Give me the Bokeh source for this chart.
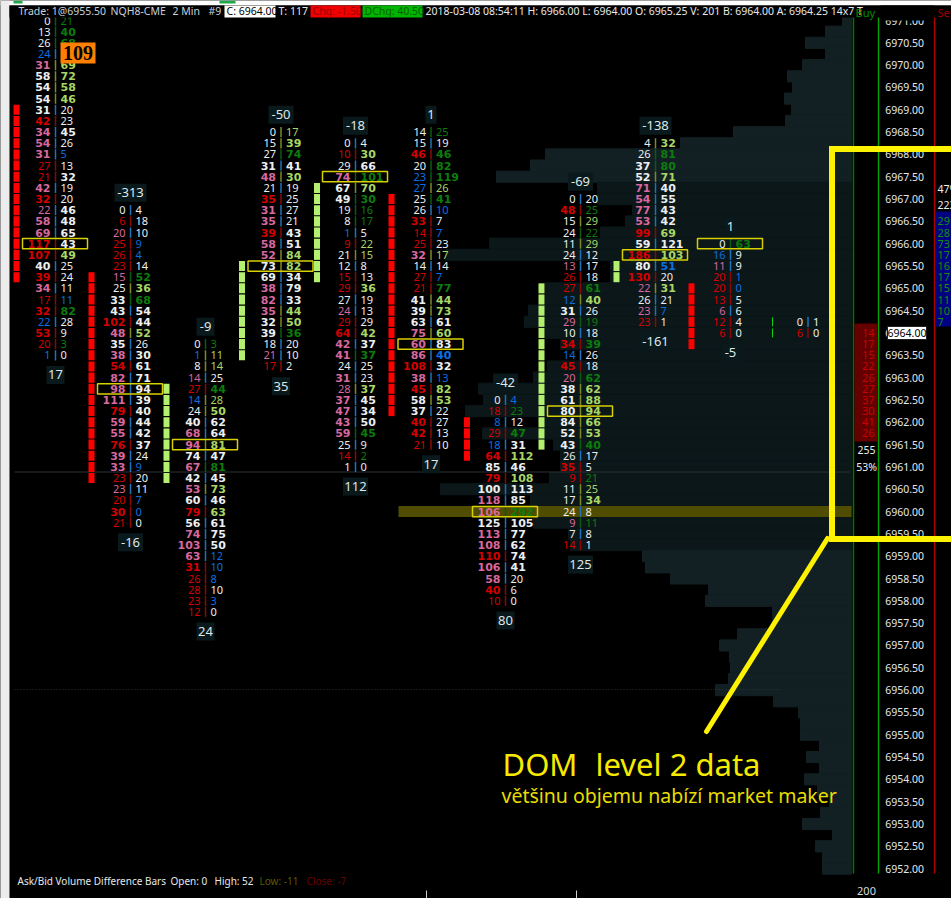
from bokeh.embed import file_html
from bokeh.resources import INLINE
from bokeh.plotting import figure
from bokeh.models import ColumnDataSource, Range1d, LinearAxis, FixedTicker, NumeralTickFormatter
from bokeh.core.properties import value

# ---------- footprint data (bid x ask per 0.25 price row, from top row down) ----------
bar_top = [6971.0, 6966.75, 6963.75, 6968.5, 6968.25, 6968.5, 6962.5, 6967.0, 6968.25, 6966.0, 6964.25]
bar_poc = [6966.0, 6962.75, 6961.5, 6965.5, 6967.5, 6963.75, 6960.0, 6962.25, 6965.75, 6966.0, None]
label_top = [None, "-313", "-9", "-50", "-18", "1", "-42", "-69", "-138", "1", None]
label_bottom = ["17", "-16", "24", "35", "112", "17", "80", "125", "-161", "-5", None]

bids0 = [0,13,26,24,31,58,54,54,31,42,34,54,31,27,21,42,32,22,58,69,117,107,40,39,34,17,32,22,53,20,1]
asks0 = [21,40,68,109,69,72,58,46,20,23,45,26,5,13,32,19,20,46,48,65,43,49,25,24,11,11,82,28,9,3,0]
bids1 = [0,6,20,25,26,23,15,25,33,43,102,48,35,38,54,82,98,111,79,59,55,76,39,33,23,23,20,30,21]
asks1 = [4,18,10,9,4,14,52,36,68,54,44,52,26,30,61,71,94,39,40,44,42,37,24,9,20,11,7,0,0]
bids2 = [0,1,8,14,27,14,24,40,68,94,74,67,42,53,60,79,56,74,103,63,31,26,28,23,12]
asks2 = [3,11,14,25,44,28,50,62,64,81,47,81,45,73,46,63,61,75,50,12,10,8,10,3,0]
bids3 = [0,15,27,31,48,21,35,31,35,39,58,52,73,69,38,82,35,32,39,18,21,17]
asks3 = [17,39,74,41,30,19,25,27,21,43,51,84,82,34,79,33,44,50,36,20,10,2]
bids4 = [0,10,29,74,67,49,19,8,1,9,21,12,15,29,27,24,29,64,42,41,24,31,28,37,47,43,59,25,14,1]
asks4 = [4,30,66,101,70,30,16,17,5,22,15,8,13,36,19,13,29,42,37,37,25,23,37,45,34,50,45,9,2,0]
bids5 = [14,15,46,20,23,27,25,26,33,14,25,32,14,27,21,41,39,63,75,60,86,108,38,45,58,37,40,42,21]
asks5 = [25,19,46,82,119,26,41,10,7,7,23,17,14,7,77,44,73,61,60,83,40,32,13,82,53,22,27,13,10]
bids6 = [0,18,8,29,18,64,85,79,100,118,106,125,113,108,110,106,58,40,10]
asks6 = [4,23,12,47,31,112,46,108,113,85,292,105,77,62,74,41,20,6,0]
bids7 = [0,48,15,24,11,24,13,26,27,12,31,29,10,34,14,45,20,38,61,80,84,52,43,26,35,9,11,17,24,9,7,14]
asks7 = [20,25,29,22,29,12,17,18,61,40,26,19,18,39,26,18,62,62,88,94,66,53,40,17,5,21,25,34,8,11,8,1]
bids8 = [4,26,37,52,71,54,77,53,99,59,186,80,130,22,26,23,23]
asks8 = [32,81,80,71,40,55,43,42,69,121,103,51,20,31,21,7,1]
bids9 = [0,16,11,20,20,13,6,12,6]
asks9 = [63,9,9,1,0,5,6,4,0]
bids10 = [0,6]
asks10 = [1,0]

# imbalance class of each printed number: w neutral, r/p sell side, b weak, g/l buy side
bid_class = ["wwwbpwwwwrppprrprppprrwrprrbrrb", "wrprrrpwwwrpwprppprpprpprprrr", "wbwprbwwppwpwpwrwppprrrrr",
             "wwwwpwrpprppwwpppwwwpr", "wrwpwwwwbrwwrrwprrppwppppppwrw", "wwrwbbwwrrrpwrrwwwppprprwwrrr",
             "wrbrbrwrwppwpprpprr", "wrwwwwprrbwpwrbrpwwwwwwwrrwwwpwr", "wwwwpppprwrwrpwpr", "wbprrrprr", "wr"]
ask_class = ["gggwllllwwwwbwwwwwwwwlwwwbgwwgw", "wwwbbwglgwwlwwwwwwwwwwwbwwbbw", "gllwgllwwlwgwlwlwwwbbbwbw",
             "llgwlwwwwwwllwwwllgwww", "wlwglgggwllwwlwwwlwgwwlwwwgwgw", "gwggglgbwbwlwbgllwlwbwbllwwww",
             "bgwgwlwlwwgwwwwwwww", "wglglwwwglwgwgwwglllllgwwgllwgww", "lgglwwwwlwlbwlwbw", "gwwbbwwww", "ww"]
all_bids = [bids0, bids1, bids2, bids3, bids4, bids5, bids6, bids7, bids8, bids9, bids10]
all_asks = [asks0, asks1, asks2, asks3, asks4, asks5, asks6, asks7, asks8, asks9, asks10]

# side markers: bar index, side, first price, last price, colour class
side_bar = [0, 1, 1, 3, 3, 4, 5, 7, 7, 8]
side_pos = ["L", "L", "R", "L", "R", "R", "R", "L", "R", "R"]
side_first = [6969.0, 6965.25, 6962.75, 6965.5, 6967.25, 6967.0, 6962.0, 6965.0, 6965.5, 6965.0]
side_last = [6965.25, 6960.75, 6960.75, 6963.5, 6965.25, 6962.25, 6961.25, 6961.5, 6965.25, 6963.75]
side_kind = ["s", "s", "b", "b", "b", "s", "s", "b", "b", "s"]

# DOM depth per 0.25 row from 6971.00 down to 6952.00
dom_depth = [9,26,46,26,49,64,59,67,60,66, 118,171,306,321,355,
             254,254,219,226,251,362,406,241,241, 306,306,323,327,306, 291,253,304,318,
             373,368,386,311, 369,298,291,291,302, 411,321,321, 318,283,281, 209,
             206,181,143,146, 79,79,114,132, 122,121,123,136, 78,53,51,51, 32,45,32,47,
             34,22,31,49, 19,36,29,29]

price_ticks = [6971 - 0.5 * i for i in range(39)]
buy_orders = [14,17,15,22,26,27,37,30,41,26]
sell_orders = [29,28,73,17,16,17,15,11,10,7]

# ---------- pixel helpers ----------
PX_PER_POINT = 44.64
def P(py):
    return 6966.0 - (py - 243.2) / PX_PER_POINT
def H(px):
    return px / PX_PER_POINT

bar_x = [55, 130, 205, 280.5, 355, 430.5, 505, 580, 655, 730, 807.5]
ROW = 0.25
HALF = 0.125

COL = {"w": "#eceff0", "r": "#d40000", "p": "#d8689f", "b": "#0a6fe0", "g": "#0c7d0c", "l": "#a9d665"}
DIV = {"r": "#8c0808", "g": "#0a5c14", "l": "#7d8a24", "b": "#1f72b8"}
UI = "Noto Sans"

p = figure(width=951, height=898, x_range=Range1d(0, 951), y_range=Range1d(P(898), P(0)),
           toolbar_location=None, output_backend="svg", x_axis_location=None, y_axis_location=None,
           min_border=0, background_fill_color="#000000", outline_line_color=None)
p.xgrid.visible = False
p.ygrid.visible = False

# window strips
p.quad(left=[0], right=[951], bottom=[P(5)], top=[P(0)], fill_color="#ffffff", line_color=None)
p.quad(left=[0], right=[9], bottom=[P(898)], top=[P(0)], fill_color="#ececec", line_color=None)
p.quad(left=[13, 219], right=[22, 235], bottom=[P(3)] * 2, top=[P(0)] * 2, fill_color="#1fa84a", line_color=None)

# DOM profile: each row is outlined in its own colour so that neighbouring rows have no seam
prices = [6971.0 - ROW * i for i in range(len(dom_depth))]
RIGHT = 851
dom_fill = ["#122024" if (q > 6967.3 or q <= 6959.0) else "#0b1719" for q in prices]
p.quad(left=[RIGHT - d for d in dom_depth], right=[RIGHT] * len(dom_depth),
       bottom=[q - HALF for q in prices], top=[q + HALF for q in prices],
       fill_color=dom_fill, line_color=dom_fill, line_width=1)

# session lines
p.line([14, 850], [P(471.5)] * 2, line_color="#2b3232", line_width=1)
p.line([14, 780], [P(689)] * 2, line_color="#2b3232", line_width=1, line_dash="1 2")

# maximum-volume price band
p.quad(left=[398], right=[851], top=[6960.0 + HALF], bottom=[6960.0 - HALF], fill_color="#504c00", line_color=None)

# vertical column rules
top_line, bot_line = P(5), P(873)
p.segment([853, 878, 934], [top_line] * 3, [853, 878, 934], [bot_line] * 3,
          line_color=["#007800", "#00a000", "#b00000"], line_width=1.5)

# side markers
sx, sy, sc = [], [], []
for b, pos, a, z, k in zip(side_bar, side_pos, side_first, side_last, side_kind):
    n = int(round((a - z) / ROW)) + 1
    for i in range(n):
        sx.append(bar_x[b] + (-39 if pos == "L" else 36))
        sy.append(a - i * ROW)
        sc.append("#ff0000" if k == "s" else "#b4f070")
p.rect(x=sx, y=sy, width=6, height=0.225, fill_color=sc, line_color=None)
p.segment([772, 772], [6964.25 + 0.1, 6964.0 + 0.1], [772, 772], [6964.25 - 0.1, 6964.0 - 0.1],
          line_color="#10d010", line_width=1)

# footprint cells
groups = {False: dict(x=[], y=[], text=[], color=[]), True: dict(x=[], y=[], text=[], color=[])}
asks_g = {False: dict(x=[], y=[], text=[], color=[]), True: dict(x=[], y=[], text=[], color=[])}
dx, dy0, dy1, dc = [], [], [], []
for i, (bv, av, bc, ac) in enumerate(zip(all_bids, all_asks, bid_class, ask_class)):
    assert len(bv) == len(av) == len(bc) == len(ac), i
    x = bar_x[i]
    for j in range(len(bv)):
        q = bar_top[i] - j * ROW
        g = groups[bv[j] >= 30]
        g["x"].append(x - 5); g["y"].append(q); g["text"].append(str(bv[j])); g["color"].append(COL[bc[j]])
        g = asks_g[av[j] >= 30]
        g["x"].append(x + 5); g["y"].append(q); g["text"].append(str(av[j])); g["color"].append(COL[ac[j]])
        dx.append(x); dy0.append(q + 0.115); dy1.append(q - 0.115)
        dc.append(DIV["r"] if bc[j] == "r" else DIV["g"] if ac[j] == "g" else DIV["l"] if ac[j] == "l" else DIV["b"])
p.segment(dx, dy0, dx, dy1, line_color=dc, line_width=1.5)

def cell_text(data, align):
    for heavy, d in data.items():
        p.text(x="x", y="y", text="text", text_color="color", source=ColumnDataSource(d),
               text_align=align, text_baseline="middle",
               text_font=value("DejaVu Sans" if heavy else "Noto Sans"),
               text_font_size="11px",
               text_font_style="bold" if heavy else "normal")
cell_text(groups, "right")
cell_text(asks_g, "left")

# point of control boxes
for x, q in zip(bar_x, bar_poc):
    if q is not None:
        p.quad(left=[x - 33], right=[x + 32], top=[q + HALF - 0.01], bottom=[q - HALF + 0.01],
               fill_color=None, line_color="#d8d000", line_width=1.5)

# delta tiles
for i, x in enumerate(bar_x):
    n = len(all_bids[i])
    for lab, q in ((label_top[i], bar_top[i] + 0.39), (label_bottom[i], bar_top[i] - (n - 1) * ROW - 0.44)):
        if lab:
            p.rect(x=[x], y=[q], width=[len(lab) * 7 + 4], height=[H(18)], fill_color="#0a191c", line_color=None)
            p.text(x=[x], y=[q], text=[lab], text_color="#dfe8e8", text_align="center", text_baseline="middle",
                   text_font=value(UI), text_font_size="13px")

# biggest-print marker
p.quad(left=[60], right=[95], top=[P(42)], bottom=[P(63)], fill_color="#ff8000", line_color=None)
p.text(x=[77.5], y=[P(52.5)], text=["109"], text_color="#000000", text_align="center", text_baseline="middle",
       text_font=value("Liberation Serif"), text_font_style="bold", text_font_size="20px")

# buy / sell order columns
p.quad(left=[854], right=[877], top=[P(323)], bottom=[P(441)], fill_color="#640000", line_color=None)
p.text(x=[874] * len(buy_orders), y=[6964.0 - ROW * i for i in range(len(buy_orders))], text=[str(v) for v in buy_orders],
       text_color="#c80000", text_align="right", text_baseline="middle", text_font=value(UI), text_font_size="11px")
p.text(x=[866, 866], y=[P(449), P(466)], text=["255", "53%"], text_color="#eeeeee", text_align="center",
       text_baseline="middle", text_font=value(UI), text_font_size="10.5px")
p.quad(left=[935], right=[951], top=[P(211)], bottom=[P(326)], fill_color="#000080", line_color=None)
p.text(x=[937] * len(sell_orders), y=[6966.5 - ROW * i for i in range(len(sell_orders))], text=[str(v) for v in sell_orders],
       text_color="#109010", text_align="left", text_baseline="middle", text_font=value(UI), text_font_size="11px")
p.text(x=[937, 937], y=[P(188), P(204)], text=["47%", "223"], text_color="#eeeeee", text_align="left",
       text_baseline="middle", text_font=value(UI), text_font_size="10.5px")

# price axis
axis = LinearAxis(fixed_location=929.5, ticker=FixedTicker(ticks=price_ticks),
                  formatter=NumeralTickFormatter(format="0.00"),
                  major_tick_line_color=None, minor_tick_line_color=None, axis_line_color=None,
                  major_label_text_color="#e4e8ea", major_label_text_font=UI,
                  major_label_text_font_size="10.5px", major_label_standoff=0)
p.add_layout(axis, "left")

# current price flag
p.quad(left=[887], right=[926], top=[P(326)], bottom=[P(339)], fill_color="#ffffff", line_color="#202020", level="overlay")
p.text(x=[906.5], y=[6964.0], text=["6964.00"], text_color="#000000", text_align="center", text_baseline="middle",
       text_font=value(UI), text_font_size="10.5px", level="overlay")

# status line; the top price label slides under it
p.quad(left=[9, 880], right=[951, 933], top=[P(5)] * 2, bottom=[P(17), P(20)], fill_color="#000000", line_color=None, level="overlay")
for x0, x1, c in ((224, 275, "#ffffff"), (310, 360, "#f00000"), (362, 422, "#00b400")):
    p.quad(left=[x0], right=[x1], top=[P(5)], bottom=[P(17)], fill_color=c, line_color=None, level="overlay")
head_x = [18, 110, 172, 208, 226, 278, 312, 364, 425]
head_txt = ["Trade: 1@6955.50", "NQH8-CME", "2 Min", "#9", "C: 6964.00", "T: 117", "Chg: -1.50", "DChg: 40.50",
            "2018-03-08 08:54:11 H: 6966.00 L: 6964.00 O: 6965.25 V: 201 B: 6964.00 A: 6964.25 14x7 T"]
head_col = ["#c8d0d8", "#c8d0d8", "#c8d0d8", "#c8d0d8", "#000000", "#e8e8e8", "#a00000", "#006000", "#e8e8e8"]
p.text(x=head_x, y=[P(10.5)] * len(head_x), text=head_txt, text_color=head_col, text_align="left",
       text_baseline="middle", text_font=value(UI), text_font_size="10.5px", level="overlay")
p.text(x=[855], y=[P(12)], text=["Buy"], text_color="#009000", text_align="left", text_baseline="middle",
       text_font=value(UI), text_font_size="11px", level="overlay")
p.text(x=[937], y=[P(12)], text=["Sell"], text_color="#a00000", text_align="left", text_baseline="middle",
       text_font=value(UI), text_font_size="11px", level="overlay")

# lower study caption
cap_x = [17, 170, 214, 259, 306]
cap_txt = ["Ask/Bid Volume Difference Bars", "Open: 0", "High: 52", "Low: -11", "Close: -7"]
cap_col = ["#e4e8ea", "#e4e8ea", "#e4e8ea", "#5a5a00", "#6a0000"]
p.text(x=cap_x, y=[P(880.5)] * 5, text=cap_txt, text_color=cap_col, text_align="left", text_baseline="middle",
       text_font=value(UI), text_font_size="10px")
p.text(x=[866], y=[P(890.5)], text=["200"], text_color="#d8dcdc", text_align="center", text_baseline="middle",
       text_font=value(UI), text_font_size="11px")
p.segment([426, 576], [P(890)] * 2, [426, 576], [P(898)] * 2, line_color="#d0d0d0", line_width=1)

# hand annotation
YEL = "#fff200"
p.line([955, 831.5, 831.5, 955], [P(148.5), P(148.5), P(538.5), P(538.5)], line_color=YEL, line_width=6,
       line_join="miter", level="overlay")
p.line([827, 706], [P(538), P(731)], line_color=YEL, line_width=5, line_cap="round", level="overlay")
p.text(x=[502, 595], y=[P(763)] * 2, text=["DOM", "level 2 data"], text_color="#f5ea00", text_align="left",
       text_baseline="alphabetic", text_font=value("Noto Sans"), text_font_size="31px", level="overlay")
p.text(x=[501], y=[P(795)], text=["většinu objemu nabízí market maker"], text_color="#e8dc00", text_align="left",
       text_baseline="alphabetic", text_font=value("Noto Sans"), text_font_size="19.5px", level="overlay")

open("out.html", "w").write(file_html(p, INLINE))
